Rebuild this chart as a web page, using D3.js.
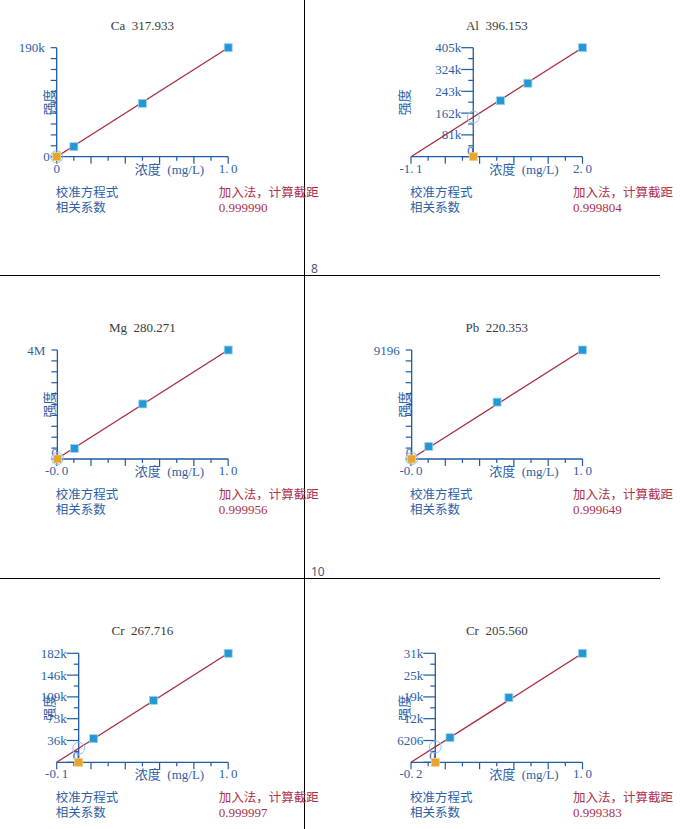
<!DOCTYPE html>
<html>
<head>
<meta charset="utf-8">
<script src="https://cdn.jsdelivr.net/npm/d3@7"></script>
<style>
body { margin: 0; background: #fff; }
svg { display: block; }
</style>
</head>
<body>
<div id="chart-area"></div>
<script>
// calibration curves, standard addition method
var titles = ["Ca 317.933", "Al 396.153", "Mg 280.271", "Pb 220.353", "Cr 267.716", "Cr 205.560"];
var conc = [[0.1, 0.5, 1.0], [0.5, 1.0, 2.0], [0.1, 0.5, 1.0], [0.1, 0.5, 1.0], [0.1, 0.5, 1.0], [0.1, 0.5, 1.0]];
var intensity = [
    [17500, 93000, 190000],
    [208000, 273000, 405000],
    [390000, 2020000, 4000000],
    [1060, 4800, 9196],
    [39400, 103500, 182000],
    [7000, 18400, 31030]
];
var yMax = [190000, 405000, 4000000, 9196, 182000, 31030];
var xMin = [0, -1.14, -0.004, -0.004, -0.147, -0.165];
var rValues = ["0.999990", "0.999804", "0.999956", "0.999649", "0.999997", "0.999383"];
var yLabelAll = [false, true, false, false, true, true];
var pageNums = ["8", "10"];

var width = 681, height = 829;
var svg = d3.select("#chart-area").append("svg")
    .attr("width", width)
    .attr("height", height);

var num = "'Liberation Serif', 'DejaVu Serif', serif";
var cjk = "'Noto Sans CJK SC', sans-serif";
var blue = "#2d5fa6", axisBlue = "#1f5aa3", red = "#b0304a";

// page frame lines
svg.append("line").attr("x1", 304.5).attr("x2", 304.5).attr("y1", 0).attr("y2", height)
    .attr("stroke", "#000").attr("stroke-width", 1);
[275.5, 578.5].forEach((y, i) => {
    svg.append("line").attr("x1", 0).attr("x2", 660).attr("y1", y).attr("y2", y)
        .attr("stroke", "#000").attr("stroke-width", 1);
    svg.append("text").attr("x", 311).attr("y", y - 2.5)
        .attr("font-family", "'Noto Sans', sans-serif").attr("font-size", 12)
        .attr("fill", "#4b5a7a").text(pageNums[i]);
});

function fmtX(v) {
    if (v === 0) return "0";
    return (v < 0 ? "-" : "") + Math.abs(v).toFixed(1);
}
function fmtY(v) {
    if (v === 0) return "0";
    if (v >= 1e6) return Math.round(v / 1e6) + "M";
    if (v >= 10000) return Math.round(v / 1000) + "k";
    return Math.round(v) + "";
}

var lefts = [56.7, 411], tops = [47.7, 350, 653.3];
var plotW = 171.5, plotH = 109;

titles.forEach((title, p) => {
    var left = lefts[p % 2], top = tops[Math.floor(p / 2)];
    var bottom = top + plotH, right = left + plotW;
    var xHi = conc[p][conc[p].length - 1];

    var x = d3.scaleLinear().domain([xMin[p], xHi]).range([left, right]);
    var y = d3.scaleLinear().domain([0, yMax[p]]).range([bottom, top]);
    var g = svg.append("g");
    var x0 = x(0);

    // title
    g.append("text").attr("x", (left + right) / 2).attr("y", top - 18)
        .attr("text-anchor", "middle").attr("font-family", num).attr("font-size", 13)
        .attr("fill", "#3a3a3a").text(title.replace(" ", "\u2002"));

    // axes
    g.append("line").attr("x1", left).attr("x2", right).attr("y1", bottom).attr("y2", bottom)
        .attr("stroke", axisBlue).attr("stroke-width", 1.3);
    g.append("line").attr("x1", x0).attr("x2", x0).attr("y1", bottom).attr("y2", top)
        .attr("stroke", axisBlue).attr("stroke-width", 1.3);

    var xt = d3.range(11).map(i => xMin[p] + i * (xHi - xMin[p]) / 10);
    g.selectAll(".xt").data(xt).enter().append("line")
        .attr("x1", d => x(d)).attr("x2", d => x(d))
        .attr("y1", bottom).attr("y2", (d, i) => bottom + (i % 2 === 0 ? 7 : 4))
        .attr("stroke", axisBlue).attr("stroke-width", 1.2);

    var yt = d3.range(11).map(i => i * yMax[p] / 10);
    g.selectAll(".yt").data(yt).enter().append("line")
        .attr("x1", x0).attr("x2", (d, i) => x0 - (yLabelAll[p] ? (i % 2 === 0 ? 12 : 5) : 6))
        .attr("y1", d => y(d)).attr("y2", d => y(d))
        .attr("stroke", axisBlue).attr("stroke-width", 1.2);

    // y tick labels
    var yl = yLabelAll[p] ? yt.filter((d, i) => i % 2 === 0 && i > 0) : [yMax[p]];
    g.selectAll(".yl").data(yl).enter().append("text")
        .attr("x", x0 - 12).attr("y", d => y(d)).attr("dy", "0.35em")
        .attr("text-anchor", "end").attr("font-family", num).attr("font-size", 13)
        .attr("fill", blue).text(fmtY);
    // zero label
    var zeroStd = xMin[p] === 0;
    g.append("text")
        .attr("x", zeroStd ? x0 - 7 : x0 + 0.5).attr("y", zeroStd ? bottom : bottom - 6.5)
        .attr("dy", "0.35em").attr("text-anchor", "end")
        .attr("font-family", num).attr("font-size", 13).attr("fill", blue).text("0");

    // x labels
    [xMin[p], xHi].forEach(v => {
        g.append("text").attr("x", x(v)).attr("y", bottom + 16)
            .attr("text-anchor", "middle").attr("font-family", num).attr("font-size", 13)
            .attr("fill", blue).text(fmtX(v).replace(".", ".\u2009"));
    });
    var xl = g.append("text").attr("x", right - 24).attr("y", bottom + 17)
        .attr("text-anchor", "end").attr("fill", blue);
    xl.append("tspan").attr("font-family", cjk).attr("font-size", 13).text("浓度");
    xl.append("tspan").attr("font-family", num).attr("font-size", 13).text("\u2002(mg/L)");

    g.append("text")
        .attr("transform", "translate(" + (left - 7) + "," + ((top + bottom) / 2) + ") rotate(-90)")
        .attr("text-anchor", "middle").attr("dy", "0.35em")
        .attr("font-family", cjk).attr("font-size", 13).attr("fill", blue).text("强度");

    // regression line, from x intercept to top standard
    var lastY = intensity[p][intensity[p].length - 1];
    g.append("line")
        .attr("x1", x(xMin[p])).attr("y1", y(0))
        .attr("x2", x(xHi)).attr("y2", y(lastY))
        .attr("stroke", "#a8283e").attr("stroke-width", 1.3);

    // intercept marker
    var icpt = lastY * (0 - xMin[p]) / (xHi - xMin[p]);
    g.append("circle").attr("cx", x0).attr("cy", y(icpt)).attr("r", 6)
        .attr("fill", "none").attr("stroke", "#8cc4ea").attr("stroke-width", 1);

    // standards
    var pts = conc[p].map((c, i) => ({c: c, v: intensity[p][i]}));
    g.selectAll(".pt").data(pts).enter().append("rect")
        .attr("x", d => x(d.c) - 4).attr("y", d => y(d.v) - 4)
        .attr("width", 8).attr("height", 8)
        .attr("fill", "#2597d3").attr("stroke", "#9fd4f0").attr("stroke-width", 0.8);
    // blank sample
    g.append("rect").attr("x", x0 - 4).attr("y", y(0) - 4)
        .attr("width", 8).attr("height", 8)
        .attr("fill", "#e6a52c").attr("stroke", "#f3d08a").attr("stroke-width", 0.8);

    // footer text
    g.append("text").attr("x", left - 1).attr("y", bottom + 35.5).attr("dy", "0.35em")
        .attr("font-family", cjk).attr("font-size", 12.5).attr("fill", blue).text("校准方程式");
    g.append("text").attr("x", left - 1).attr("y", bottom + 50.5).attr("dy", "0.35em")
        .attr("font-family", cjk).attr("font-size", 12.5).attr("fill", blue).text("相关系数");
    g.append("text").attr("x", left + 162).attr("y", bottom + 35.5).attr("dy", "0.35em")
        .attr("font-family", cjk).attr("font-size", 12.5).attr("fill", red).text("加入法，计算截距");
    g.append("text").attr("x", left + 162).attr("y", bottom + 50.5).attr("dy", "0.35em")
        .attr("font-family", num).attr("font-size", 13).attr("fill", red).text(rValues[p]);
});
</script>
</body>
</html>
